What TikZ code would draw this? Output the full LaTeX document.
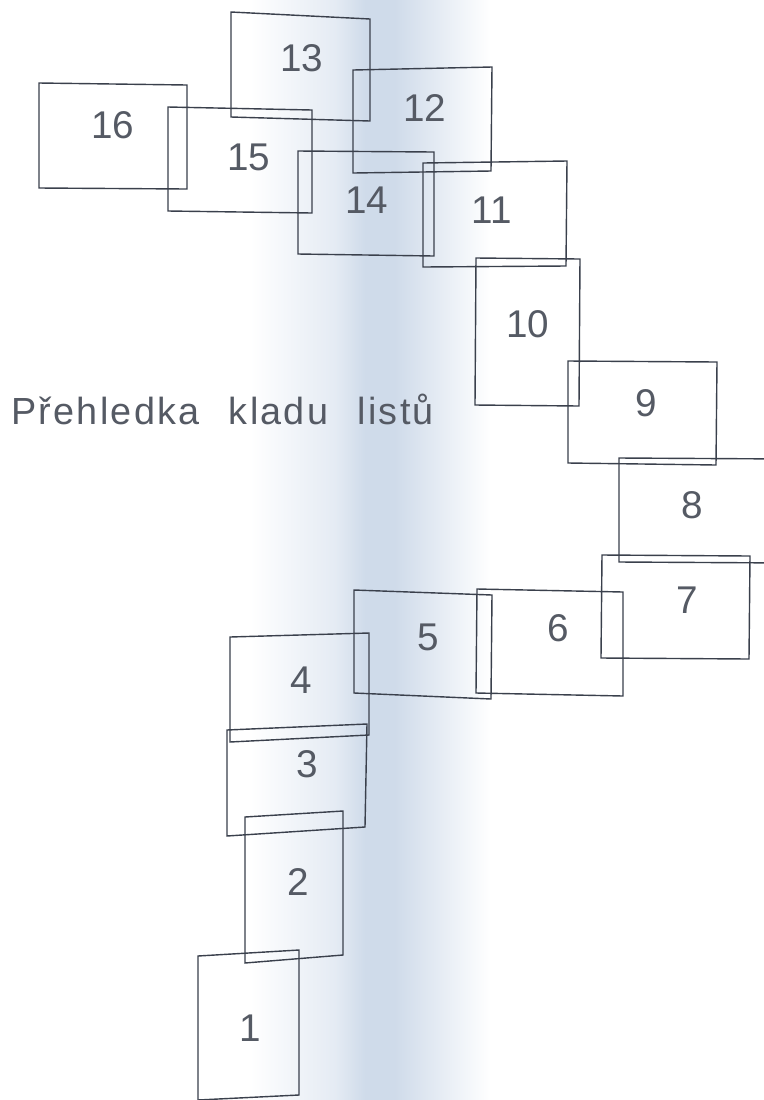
\documentclass[tikz,border=0pt]{standalone}
\usepackage{fontspec}
\setmainfont{Liberation Sans}
\newfontfamily\titlefont[LetterSpace=6,WordSpace=2.3]{Liberation Sans}
\usepackage{xcolor}
\definecolor{linecol}{HTML}{3A404C}
\definecolor{textcol}{HTML}{555A64}
\definecolor{bandcol}{HTML}{CFDBEA}

\tikzset{
  sheet/.style={draw=linecol, line width=0.8pt, line join=miter},
  sheetno/.style={text=textcol, font=\fontsize{22}{24}\selectfont, inner sep=0pt}
}

\begin{document}
\begin{tikzpicture}[x=0.02cm, y=-0.02cm]
				\useasboundingbox (0,0) rectangle (764,1100);
				\clip (0,0) rectangle (764,1100);
				
				% Paper and scan shading
				\fill[white] (0,0) rectangle (764,1100);
				\shade[left color=white, right color=bandcol!55] (250,0) rectangle (335,1100);
				\shade[left color=bandcol!55, right color=bandcol] (335,0) rectangle (365,1100);
				\fill[bandcol] (365,0) rectangle (395,1100);
				\shade[left color=bandcol, right color=white] (395,0) rectangle (490,1100);
				
				% Sheets 16 to 11
				\draw[sheet] (39,83) -- (187,85) -- (187,189) -- (39,188) -- cycle;
				\node[sheetno] (n16) at (113,125) {16};
				\draw[sheet] (168,107) -- (312,110) -- (312,213) -- (168,211) -- cycle;
				\node[sheetno] (n15) at (249,157) {15};
				\draw[sheet] (231,12) -- (370,19) -- (370,121) -- (231,117) -- cycle;
				\node[sheetno] (n13) at (302,58) {13};
				\draw[sheet] (353,70) -- (492,67) -- (491,171) -- (353,173) -- cycle;
				\node[sheetno] (n12) at (425,108) {12};
				\draw[sheet] (298,151) -- (434,152) -- (434,256) -- (298,254) -- cycle;
				\node[sheetno] (n14) at (367,200) {14};
				\draw[sheet] (423,163) -- (567,161) -- (566,266) -- (423,267) -- cycle;
				\node[sheetno] (n11) at (492,210) {11};
				
				% Sheets 10 to 6
				\draw[sheet] (476,258) -- (580,259) -- (579,406) -- (475,405) -- cycle;
				\node[sheetno] (n10) at (528,324) {10};
				\draw[sheet] (568,361) -- (717,362) -- (716,465) -- (568,463) -- cycle;
				\node[sheetno] (n9) at (646,403) {9};
				\draw[sheet] (619,458) -- (790,459) -- (790,563) -- (619,562) -- cycle;
				\node[sheetno] (n8) at (692,505) {8};
				\draw[sheet] (602,555) -- (750,556) -- (749,659) -- (601,658) -- cycle;
				\node[sheetno] (n7) at (687,600) {7};
				\draw[sheet] (477,589) -- (623,592) -- (623,696) -- (476,693) -- cycle;
				\node[sheetno] (n6) at (558,628) {6};
				
				% Sheets 5 to 1
				\draw[sheet] (354,590) -- (492,595) -- (491,699) -- (354,693) -- cycle;
				\node[sheetno] (n5) at (428,637) {5};
				\draw[sheet] (230,637) -- (369,633) -- (369,735) -- (230,742) -- cycle;
				\node[sheetno] (n4) at (301,680) {4};
				\draw[sheet] (227,730) -- (367,724) -- (365,827) -- (227,836) -- cycle;
				\node[sheetno] (n3) at (307,764) {3};
				\draw[sheet] (245,817) -- (343,811) -- (343,955) -- (245,963) -- cycle;
				\node[sheetno] (n2) at (298,882) {2};
				\draw[sheet] (198,956) -- (299,950) -- (299,1095) -- (198,1100) -- cycle;
				\node[sheetno] (n1) at (250,1028) {1};
				
				% Title
				\node[anchor=base west, text=textcol, inner sep=0pt,
				  font=\titlefont\fontsize{21.5}{24}\selectfont] (title) at (11,424) {Přehledka kladu listů};
			\end{tikzpicture}
\end{document}
